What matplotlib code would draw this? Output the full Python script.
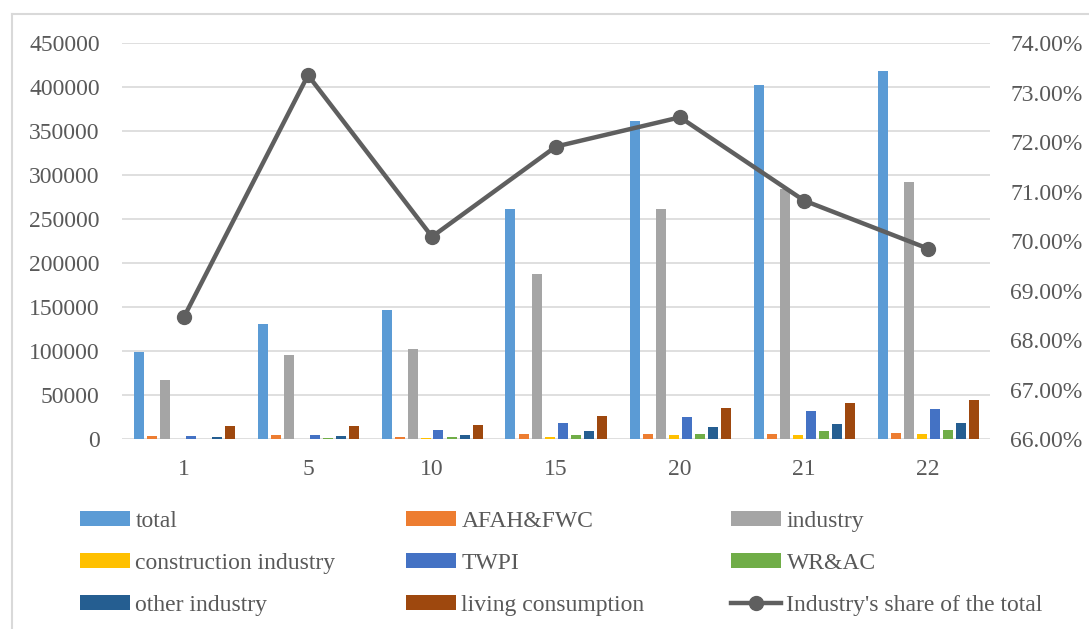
import numpy as np
import matplotlib.pyplot as plt
from matplotlib.patches import Patch
from matplotlib.lines import Line2D
from matplotlib.ticker import FuncFormatter, MultipleLocator

plt.rcParams['font.family'] = ['Liberation Serif', 'DejaVu Serif']

# x-axis categories
years = ['1', '5', '10', '15', '20', '21', '22']

# water use by sector
total = [98800, 131000, 147000, 262000, 361000, 402000, 418000]
afah_fwc = [4200, 4600, 3100, 5700, 6100, 6500, 6800]
industry = [67650, 96100, 103000, 187700, 261700, 284700, 292000]
construction = [300, 300, 1200, 2300, 4600, 5300, 5700]
twpi = [3800, 4900, 10600, 18200, 25800, 31900, 34200]
wr_ac = [300, 1200, 2300, 4600, 6500, 9100, 10300]
other_industry = [2500, 3800, 5300, 9900, 14000, 17400, 19000]
living = [14800, 14800, 16000, 27000, 35300, 41400, 44400]

# industry as a share of the total (%)
industry_share = [68.47, 73.35, 70.09, 71.91, 72.50, 70.82, 69.85]

series = [
    ('total', total, '#5B9BD5'),
    ('AFAH&FWC', afah_fwc, '#ED7D31'),
    ('industry', industry, '#A5A5A5'),
    ('construction industry', construction, '#FFC000'),
    ('TWPI', twpi, '#4472C4'),
    ('WR&AC', wr_ac, '#70AD47'),
    ('other industry', other_industry, '#255E91'),
    ('living consumption', living, '#9E480E'),
]

text_color = '#595959'
grid_color = '#D9D9D9'
fs = 17

fig = plt.figure(figsize=(10.89, 6.29), dpi=100)
ax = fig.add_axes([122 / 1089, 1 - 439.3 / 629, 868 / 1089, 396.3 / 629])

x = np.arange(len(years))
slot = 13 / 124
width = 10 / 124
n = len(series)
for i, (name, vals, color) in enumerate(series):
    offs = (i - (n - 1) / 2) * slot
    ax.bar(x + offs, vals, width=width, color=color, linewidth=0, zorder=2)

ax.set_xlim(-0.5, len(years) - 0.5)
ax.set_ylim(0, 450000)
ax.yaxis.set_major_locator(MultipleLocator(50000))
ax.grid(axis='y', color=grid_color, linewidth=1.2, zorder=0)
ax.set_axisbelow(True)
ax.set_xticks(x)
ax.set_xticklabels(years)
for s in ax.spines.values():
    s.set_visible(False)
ax.tick_params(axis='x', length=0, pad=14, labelsize=fs, labelcolor=text_color)
ax.tick_params(axis='y', length=0, pad=16, labelsize=fs, labelcolor=text_color)

ax2 = ax.twinx()
ax2.plot(x, industry_share, color='#5F5F5F', linewidth=3.2, marker='o',
         markersize=10, zorder=3)
ax2.set_ylim(66, 74)
ax2.yaxis.set_major_locator(MultipleLocator(1))
ax2.yaxis.set_major_formatter(FuncFormatter(lambda v, p: f'{v:.2f}%'))
for s in ax2.spines.values():
    s.set_visible(False)
ax2.tick_params(axis='y', length=0, pad=14.5, labelsize=fs, labelcolor=text_color)

# legend: three equal-width columns
handles = [Patch(facecolor=c, edgecolor='none', label=name) for name, _, c in series]
handles.append(Line2D([0], [0], color='#5F5F5F', linewidth=3.2, marker='o',
                      markersize=10, label="Industry's share of the total"))
columns = [[handles[0], handles[3], handles[6]],
           [handles[1], handles[4], handles[7]],
           [handles[2], handles[5], handles[8]]]
for col, xpos in zip(columns, [80, 406, 731]):
    leg = fig.legend(handles=col, loc='upper left',
                     bbox_to_anchor=(xpos / 1089, 1 - 511 / 629),
                     frameon=False, fontsize=fs, handlelength=2.1,
                     handleheight=0.6, handletextpad=0.25, labelspacing=0.89,
                     borderpad=0, borderaxespad=0)
    for t in leg.get_texts():
        t.set_color(text_color)

# chart border
fig.add_artist(Line2D([12 / 1089, 1], [1 - 14 / 629, 1 - 14 / 629],
                      color=grid_color, linewidth=1.5))
fig.add_artist(Line2D([12 / 1089, 12 / 1089], [0, 1 - 14 / 629],
                      color=grid_color, linewidth=1.5))

fig.savefig('out.png', dpi=100)
